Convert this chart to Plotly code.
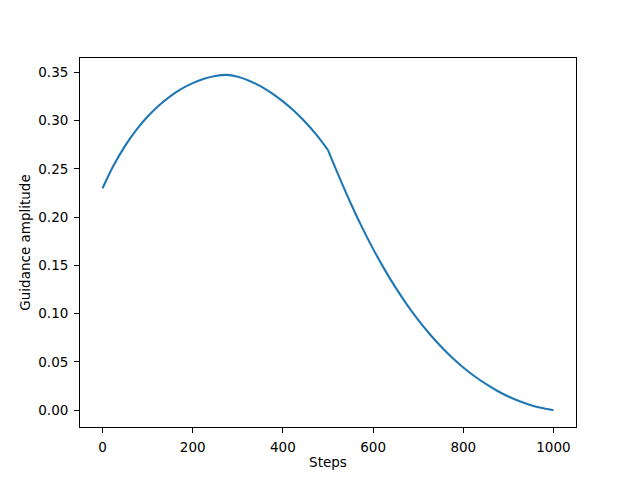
import plotly.graph_objects as go

steps = [0, 25, 50, 75, 100, 125, 150, 175, 200, 225, 250, 275, 300, 325, 350,
         375, 400, 425, 450, 475, 500, 525, 550, 575, 600, 625, 650, 675, 700,
         725, 750, 775, 800, 825, 850, 875, 900, 925, 950, 975, 1000]
amplitude = [0.230, 0.254, 0.274, 0.2905, 0.3043, 0.3158, 0.3253, 0.333, 0.339,
             0.3435, 0.3464, 0.3475, 0.3455, 0.3415, 0.3358, 0.3286, 0.320, 0.310,
             0.2984, 0.285, 0.2695, 0.2415, 0.2147, 0.190, 0.1672, 0.1462, 0.127,
             0.1095, 0.0936, 0.0792, 0.0662, 0.0546, 0.0443, 0.0352, 0.0272, 0.0202,
             0.0142, 0.0092, 0.0052, 0.0022, 0.000]
x_ticks = [0, 200, 400, 600, 800, 1000]
y_ticks = [0.00, 0.05, 0.10, 0.15, 0.20, 0.25, 0.30, 0.35]

# the schedule has a corner at step 500: draw each smooth half separately
k = steps.index(500)
fig = go.Figure()
for xs, ys in [(steps[:k + 1], amplitude[:k + 1]), (steps[k:], amplitude[k:])]:
    fig.add_trace(go.Scatter(x=xs, y=ys, mode="lines",
                             line=dict(color="#1f77b4", width=2.1, shape="spline", smoothing=1),
                             showlegend=False))

axis_common = dict(showline=True, mirror=True, linecolor="black", linewidth=1.1,
                   ticks="outside", ticklen=4.9, tickwidth=1.1, tickcolor="black",
                   showgrid=False, zeroline=False,
                   tickfont=dict(family="DejaVu Sans", size=13.5, color="black"))

fig.update_layout(
    width=640, height=480,
    margin=dict(l=72, r=72, t=50, b=61, autoexpand=False),
    paper_bgcolor="white", plot_bgcolor="white",
    font=dict(family="DejaVu Sans", size=13.5, color="black"),
    xaxis=dict(range=[-50, 1050], tickvals=x_ticks, ticktext=[str(v) for v in x_ticks],
               title=dict(text="Steps", standoff=3, font=dict(size=13.5)),
               ticklabelstandoff=3, automargin=False, **axis_common),
    yaxis=dict(range=[-0.0174, 0.365], tickvals=y_ticks, tickformat=".2f",
               title=dict(text="Guidance amplitude", standoff=4, font=dict(size=13.5)),
               ticklabelstandoff=3, automargin=False, **axis_common),
)

fig.write_html("out.html")
